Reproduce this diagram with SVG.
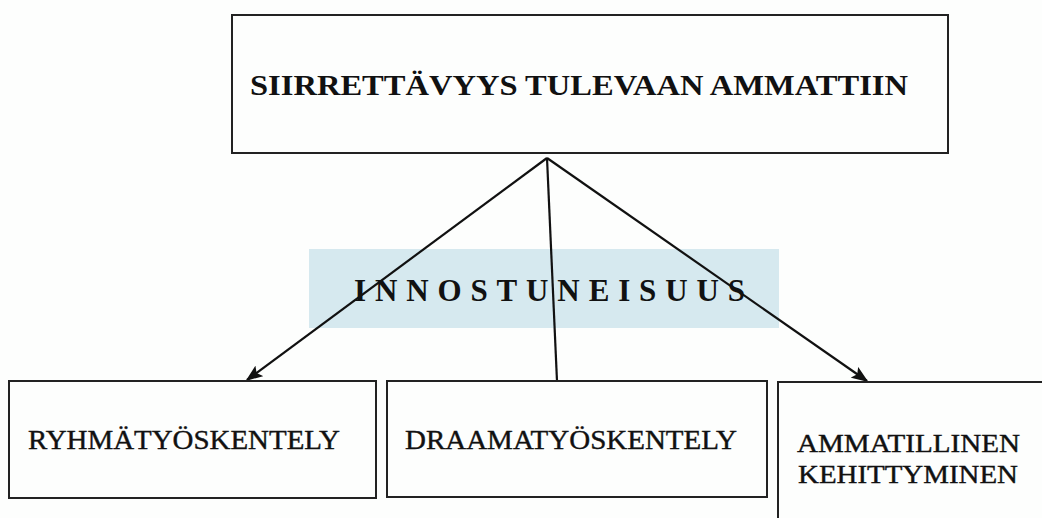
<svg xmlns="http://www.w3.org/2000/svg" width="1042" height="518" viewBox="0 0 1042 518">
<style>
.box{fill:#fdfefd;stroke:#222;stroke-width:2}
.t{font-family:"Liberation Serif","Times New Roman",serif;fill:#111}
.r{stroke:#111;stroke-width:0.4}
.b{font-weight:bold}
</style>
<defs>
<marker id="ah" viewBox="0 0 10 10" refX="9" refY="5" markerWidth="17" markerHeight="13" markerUnits="userSpaceOnUse" orient="auto" preserveAspectRatio="none">
<path d="M0,0 L10,5 L0,10 L2,5 z" fill="#111"/>
</marker>
</defs>
<rect width="1042" height="518" fill="#fdfefd"/>
<g id="bg-label">
<rect x="309" y="249" width="470" height="79" fill="#d6e9ef"/>
</g>
<g id="top">
<rect class="box" x="232" y="15" width="716" height="138"/>
<text class="t b" x="250" y="95" font-size="30" textLength="658" lengthAdjust="spacingAndGlyphs">SIIRRETTÄVYYS TULEVAAN AMMATTIIN</text>
</g>
<g id="connectors" stroke="#111" stroke-width="2.2" fill="none">
<line x1="547" y1="158" x2="247" y2="380" marker-end="url(#ah)"/>
<line x1="547" y1="158" x2="557" y2="381"/>
<line x1="547" y1="158" x2="867" y2="381" marker-end="url(#ah)"/>
</g>
<g id="label">
<text class="t b" x="354" y="301" font-size="31" textLength="391" lengthAdjust="spacing">INNOSTUNEISUUS</text>
</g>
<g id="n1">
<rect class="box" x="9" y="381" width="367" height="117"/>
<text class="t r" x="28" y="449" font-size="28" textLength="312" lengthAdjust="spacingAndGlyphs">RYHMÄTYÖSKENTELY</text>
</g>
<g id="n2">
<rect class="box" x="387" y="381" width="380" height="116"/>
<text class="t r" x="405" y="449" font-size="28" textLength="332" lengthAdjust="spacingAndGlyphs">DRAAMATYÖSKENTELY</text>
</g>
<g id="n3">
<rect class="box" x="778" y="382" width="300" height="200"/>
<text class="t r" x="797" y="452" font-size="26" textLength="223" lengthAdjust="spacingAndGlyphs">AMMATILLINEN</text>
<text class="t r" x="798" y="483" font-size="26" textLength="220" lengthAdjust="spacingAndGlyphs">KEHITTYMINEN</text>
</g>
</svg>
